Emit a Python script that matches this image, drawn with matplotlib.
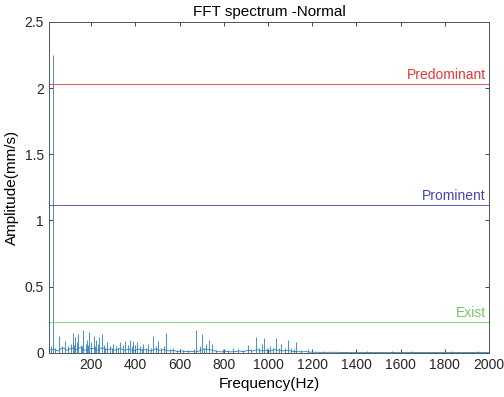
import matplotlib.pyplot as plt
import numpy as np

# spectral peaks (Hz, mm/s)
peak_freq = [16, 25, 35, 54, 66, 81, 95, 108, 115, 122, 127, 137, 142, 153, 158, 164, 174, 179,
             186, 190, 200, 210, 216, 222, 232, 237, 247, 258, 264, 270, 285, 293, 300, 312, 322,
             330, 342, 353, 364, 375, 383, 390, 398, 406, 420, 428, 436, 448, 458, 470, 481, 492,
             503, 515, 530, 538, 555, 570, 590, 615, 640, 665, 675, 690, 702, 712, 718, 733, 748,
             765, 797, 820, 843, 865, 885, 910, 925, 944, 960, 971, 983, 995, 1009, 1022, 1034,
             1048, 1061, 1075, 1091, 1105, 1118, 1129, 1150, 1182, 1197, 1250, 1300, 1350, 1450,
             1520, 1560, 1650, 1750, 1830, 1900, 1950]
peak_amp = [0.05, 2.25, 0.04, 0.13, 0.05, 0.09, 0.05, 0.07, 0.15, 0.06, 0.12, 0.08, 0.14, 0.06,
            0.05, 0.17, 0.07, 0.10, 0.06, 0.16, 0.08, 0.13, 0.05, 0.10, 0.07, 0.12, 0.14, 0.06,
            0.04, 0.08, 0.05, 0.04, 0.07, 0.05, 0.04, 0.08, 0.06, 0.09, 0.06, 0.10, 0.05, 0.09,
            0.06, 0.08, 0.05, 0.04, 0.07, 0.04, 0.07, 0.04, 0.13, 0.05, 0.09, 0.04, 0.05, 0.15,
            0.03, 0.04, 0.02, 0.02, 0.02, 0.03, 0.17, 0.05, 0.14, 0.04, 0.07, 0.10, 0.07, 0.02,
            0.03, 0.02, 0.04, 0.03, 0.02, 0.06, 0.03, 0.12, 0.04, 0.07, 0.11, 0.04, 0.05, 0.04,
            0.11, 0.04, 0.07, 0.04, 0.10, 0.04, 0.03, 0.08, 0.02, 0.03, 0.02, 0.012, 0.01, 0.01,
            0.015, 0.01, 0.012, 0.012, 0.01, 0.012, 0.01, 0.012]

# noise floor between peaks
floor_freq = [10, 30, 50, 70, 90, 110, 130, 150, 170, 190, 210, 230, 250, 270, 290, 310, 330,
              350, 370, 390, 410, 430, 450, 470, 490, 510, 530, 550, 570, 590, 610, 630, 650,
              670, 690, 710, 730, 750, 770, 790, 810, 830, 850, 870, 890, 910, 930, 950, 970,
              990, 1010, 1030, 1050, 1070, 1090, 1110, 1130, 1150, 1170, 1190, 1250, 1300, 1350,
              1400, 1450, 1500, 1550, 1600, 1650, 1700, 1750, 1800, 1850, 1900, 1950, 2000]
floor_amp = [0.02, 0.03, 0.015, 0.04, 0.02, 0.035, 0.025, 0.04, 0.02, 0.03,
             0.035, 0.02, 0.04, 0.025, 0.03, 0.02, 0.035, 0.02, 0.03, 0.015,
             0.03, 0.02, 0.025, 0.015, 0.03, 0.02, 0.025, 0.015, 0.02, 0.01,
             0.015, 0.01, 0.012, 0.008, 0.015, 0.03, 0.025, 0.02, 0.01, 0.008,
             0.012, 0.008, 0.01, 0.015, 0.01, 0.02, 0.015, 0.025, 0.015, 0.02,
             0.015, 0.025, 0.02, 0.015, 0.02, 0.012, 0.01, 0.008, 0.01, 0.006,
             0.004, 0.005, 0.003, 0.004, 0.003, 0.004, 0.003, 0.004, 0.003, 0.003,
             0.004, 0.003, 0.003, 0.004, 0.003, 0.003]

# severity thresholds
levels = [2.03, 1.12, 0.23]
level_names = ['Predominant', 'Prominent', 'Exist']
level_colors = ['#E23A36', '#4444B4', '#74CA62']

plt.rcParams['font.family'] = ['Liberation Sans', 'DejaVu Sans']

fig = plt.figure(figsize=(5.04, 3.97), dpi=100)
ax = fig.add_axes([0.097, 0.111, 0.873, 0.834])

spec_color = '#2A7FC0'
ax.plot(floor_freq, floor_amp, color=spec_color, linewidth=0.6)
ax.vlines(peak_freq, 0, peak_amp, colors=spec_color, linewidth=0.6)

for lv, name, c in zip(levels, level_names, level_colors):
    ax.axhline(lv, color=c, linewidth=0.6)
    ax.text(1985, lv + 0.015, name, color=c, fontsize=10, ha='right', va='bottom')

ax.set_xlim(8, 2000)
ax.set_ylim(0, 2.5)
ax.set_xticks(np.arange(200, 2001, 200))
ax.set_yticks([0, 0.5, 1, 1.5, 2, 2.5])
ax.set_yticklabels(['0', '0.5', '1', '1.5', '2', '2.5'])
ax.tick_params(direction='in', top=True, right=True, length=3, width=0.6,
               labelsize=10, colors='#262626')
for s in ax.spines.values():
    s.set_color('#555555')
    s.set_linewidth(0.7)

ax.set_title('FFT spectrum -Normal', fontsize=11, pad=4)
ax.set_xlabel('Frequency(Hz)', fontsize=11)
ax.set_ylabel('Amplitude(mm/s)', fontsize=11)

plt.savefig('out.png', dpi=100)
